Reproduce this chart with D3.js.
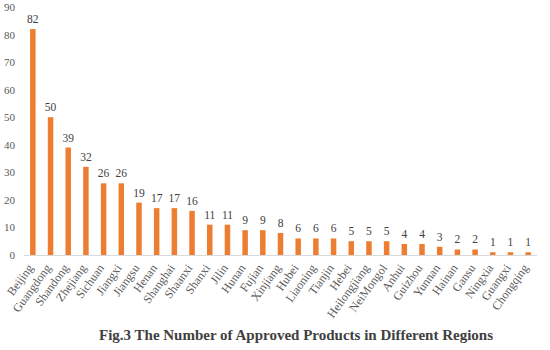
<!DOCTYPE html>
<html>
<head>
<meta charset="utf-8">
<script src="https://cdn.jsdelivr.net/npm/d3@7"></script>
<style>
  body { margin: 0; background: #fff; }
  text { font-family: "Liberation Serif", "Times New Roman", serif; }
</style>
</head>
<body>
<div id="chart"></div>
<script>
// Chart Data
const regions = ["Beijing", "Guangdong", "Shandong", "Zhejiang", "Sichuan", "Jiangxi", "Jiangsu", "Henan", "Shanghai", "Shaanxi",
  "Shanxi", "Jilin", "Hunan", "Fujian", "Xinjiang", "Hubei", "Liaoning", "Tianjin", "Hebei", "Heilongjiang",
  "NeiMongol", "Anhui", "Guizhou", "Yunnan", "Hainan", "Gansu", "Ningxia", "Guangxi", "Chongqing"];
const products = [82, 50, 39, 32, 26, 26, 19, 17, 17, 16, 11, 11, 9, 9, 8, 6, 6, 6, 5, 5, 5, 4, 4, 3, 2, 2, 1, 1, 1];
const yTicks = [0, 10, 20, 30, 40, 50, 60, 70, 80, 90];
const chartTitle = "Fig.3 The Number of Approved Products in Different Regions";

// Dimensions
let w = 550, h = 350;
let margin = { left: 24, right: 13, top: 7, bottom: 95 };

let svg = d3.select("#chart").append("svg").attr("width", w).attr("height", h);

// Scales
let x = d3.scaleBand().domain(regions).range([margin.left, w - margin.right]).paddingInner(0.69).paddingOuter(0.345);
let y = d3.scaleLinear().domain([0, 90]).range([h - margin.bottom, margin.top]);

// Y Axis Labels (no line)
svg.selectAll("text.ytick").data(yTicks).enter().append("text").attr("class", "ytick")
  .attr("x", 15).attr("y", (d) => y(d) + 4)
  .attr("text-anchor", "end").attr("font-size", 11).attr("fill", "#595959")
  .text((d) => d);

// Bars
svg.selectAll("rect.bar").data(products).enter().append("rect").attr("class", "bar")
  .attr("x", (d, i) => x(regions[i])).attr("width", x.bandwidth())
  .attr("y", (d) => y(d)).attr("height", (d) => y(0) - y(d))
  .attr("fill", "#ED7D31");

// Value Labels
svg.selectAll("text.val").data(products).enter().append("text").attr("class", "val")
  .attr("x", (d, i) => x(regions[i]) + x.bandwidth() / 2).attr("y", (d) => y(d) - 6)
  .attr("text-anchor", "middle").attr("font-size", 11.5).attr("fill", "#404040")
  .text((d) => d);

// X Axis Line
svg.append("line").attr("x1", margin.left).attr("x2", w - margin.right)
  .attr("y1", y(0) + 0.5).attr("y2", y(0) + 0.5)
  .attr("stroke", "#D9D9D9").attr("stroke-width", 1);

// X Axis Labels (rotated)
svg.selectAll("text.xtick").data(regions).enter().append("text").attr("class", "xtick")
  .attr("transform", (d) => "translate(" + (x(d) + x.bandwidth() / 2 + 1) + "," + (y(0) + 13) + ") rotate(-54)")
  .attr("text-anchor", "end").attr("font-size", 12).attr("fill", "#595959")
  .text((d) => d);

// Title
svg.append("text").attr("x", 296).attr("y", 340)
  .attr("text-anchor", "middle").attr("font-size", 15).attr("font-weight", "bold").attr("fill", "#404040")
  .text(chartTitle);
</script>
</body>
</html>
